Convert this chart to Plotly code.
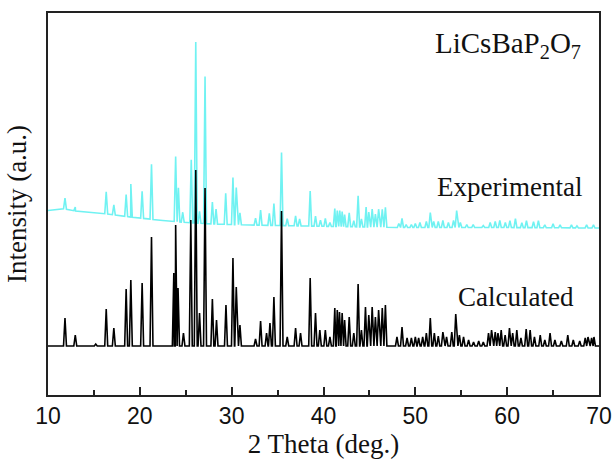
import numpy as np
import plotly.graph_objects as go

# ---- data (2theta in degrees, intensity in arbitrary units) ----
calc_pos = [11.85, 12.97, 15.2, 16.34, 17.17, 18.51, 19.02, 20.25, 21.27, 23.7, 23.9, 24.16, 24.75,
            25.55, 26.09, 26.5, 27.1, 27.9, 28.35, 29.38, 30.14, 30.5, 30.9, 32.6, 33.15, 33.8,
            34.17, 34.6, 35.43, 36.05, 36.96, 37.5, 38.55, 39.13, 39.6, 40.2, 40.7, 41.23, 41.5,
            41.74, 42.03, 42.3, 42.8, 43.3, 43.77, 44.13, 44.57, 44.93, 45.3, 45.65, 46.0, 46.4,
            46.74, 48.0, 48.55, 49.1, 49.57, 50.0, 50.36, 50.8, 51.2, 51.63, 52.07, 52.5, 53.0,
            53.4, 53.97, 54.4, 54.8, 55.25, 55.8, 56.34, 56.9, 57.4, 57.97, 58.3, 58.7, 59.0,
            59.35, 59.78, 60.25, 60.6, 61.05, 61.5, 62.07, 62.5, 62.97, 63.6, 64.1, 64.67, 65.2,
            65.9, 66.6, 67.2, 67.9, 68.5, 68.8, 69.2, 69.45]
calc_int = [28, 11, 2, 37, 18, 57, 66, 63, 109, 73, 121, 58, 13,
            126, 176, 33, 158, 47, 26, 41, 88, 59, 21, 7, 25, 13,
            23, 49, 135, 9, 18, 13, 68, 33, 16, 16, 9, 38, 36,
            34, 33, 26, 29, 13, 62, 16, 39, 31, 39, 29, 36, 38,
            41, 9, 19, 8, 8, 9, 8, 9, 13, 28, 13, 10, 14,
            9, 14, 32, 11, 9, 6, 4, 5, 4, 13, 16, 14, 13,
            16, 11, 18, 13, 16, 8, 17, 16, 9, 11, 6, 13, 6,
            5, 11, 6, 5, 8, 9, 8, 9]

exp_pos = [11.85, 12.97, 16.34, 17.17, 18.51, 19.02, 20.25, 21.27, 23.9, 24.2, 24.67, 25.6, 26.09,
           26.5, 27.1, 27.9, 28.3, 29.35, 30.14, 30.5, 30.9, 32.6, 33.15, 34.1, 34.6, 35.43,
           36.05, 36.96, 37.4, 38.55, 39.13, 39.67, 40.2, 40.7, 41.23, 41.5, 41.77, 42.03, 42.3,
           42.8, 43.3, 43.77, 44.13, 44.64, 44.93, 45.3, 45.65, 46.0, 46.4, 46.74, 48.2, 48.55,
           49.0, 49.57, 50.0, 50.5, 51.2, 51.63, 52.0, 52.5, 53.0, 53.6, 54.16, 54.5, 54.9,
           55.6, 56.3, 57.4, 58.15, 58.7, 59.2, 59.8, 60.3, 60.9, 61.6, 62.1, 62.87, 63.4,
           64.1, 65.0, 65.76, 67.0, 67.6, 68.65, 69.4]
exp_int = [11, 4, 22, 10, 22, 33, 27, 55, 65, 34, 10, 63, 181,
           12, 147, 22, 15, 31, 47, 37, 12, 7, 15, 12, 22, 73,
           7, 10, 7, 35, 10, 6, 8, 4, 18, 16, 16, 15, 12,
           14, 6, 31, 8, 20, 15, 18, 13, 18, 18, 20, 4, 9,
           3, 3, 4, 5, 6, 15, 6, 6, 7, 5, 7, 17, 5,
           3, 3, 2, 5, 6, 7, 5, 7, 9, 5, 7, 6, 7,
           3, 4, 3, 3, 2, 3, 3]

# experimental background level (offset pattern)
exp_bg_x = [10, 11.5, 13, 16, 19, 22.5, 25, 28, 32, 38, 48, 59, 70]
exp_bg_y = [135.5, 137.5, 135, 132.5, 129, 125.5, 123.5, 122, 121, 120, 118.5, 118.5, 118]

calc_bg_x = [10, 70]
calc_bg_y = [0, 0]

x_ticks = [10, 20, 30, 40, 50, 60, 70]
x_minor = [15, 25, 35, 45, 55, 65]

HALF_WIDTH = 0.16  # degrees, peak half base width


def build_profile(pos, inten, bgx, bgy):
    xs = list(bgx)
    ys = list(bgy)
    for p, h in zip(pos, inten):
        for dx, hh in ((-HALF_WIDTH, 0.0), (0.0, h), (HALF_WIDTH, 0.0)):
            xv = p + dx
            xs.append(xv)
            ys.append(float(np.interp(xv, bgx, bgy)) + hh)
    order = np.argsort(xs, kind="stable")
    return np.array(xs)[order], np.array(ys)[order]


cx, cy = build_profile(calc_pos, calc_int, calc_bg_x, calc_bg_y)
ex, ey = build_profile(exp_pos, exp_int, exp_bg_x, exp_bg_y)

fig = go.Figure()
fig.add_trace(go.Scatter(x=ex, y=ey, mode="lines",
                         line=dict(color="#70f2f2", width=1.6), name="Experimental",
                         showlegend=False))
fig.add_trace(go.Scatter(x=cx, y=cy, mode="lines",
                         line=dict(color="#000000", width=1.6), name="Calculated",
                         showlegend=False))

serif = "Liberation Serif, Times New Roman, serif"
sans = "Liberation Sans, Arial, sans-serif"

fig.update_layout(
    width=614, height=461,
    margin=dict(l=48, r=15, t=13, b=66),
    paper_bgcolor="white", plot_bgcolor="white",
    xaxis=dict(
        range=[10, 70], tickmode="array", tickvals=x_ticks,
        ticks="inside", ticklen=8, tickwidth=1.5, tickcolor="#222",
        minor=dict(tickvals=x_minor, ticks="inside", ticklen=5,
                   tickwidth=1.5, tickcolor="#222"),
        showline=True, linecolor="#222", linewidth=1.5, mirror=True,
        showgrid=False, zeroline=False, automargin=False,
        tickfont=dict(family=sans, size=23, color="#111"),
        title=dict(text="2 Theta (deg.)", font=dict(family=serif, size=27, color="#111"),
                   standoff=2),
    ),
    yaxis=dict(
        range=[-49, 333], showticklabels=False, ticks="",
        showline=True, linecolor="#222", linewidth=1.5, mirror=True,
        showgrid=False, zeroline=False, automargin=False,
        title=dict(text="Intensity (a.u.)", font=dict(family=serif, size=27, color="#111"),
                   standoff=12),
    ),
    annotations=[
        dict(text="LiCsBaP<sub>2</sub>O<sub>7</sub>", xref="paper", yref="paper",
             x=0.835, y=0.916, showarrow=False, xanchor="center", yanchor="middle",
             font=dict(family=serif, size=29, color="#111")),
        dict(text="Experimental", xref="paper", yref="paper",
             x=0.838, y=0.545, showarrow=False, xanchor="center", yanchor="middle",
             font=dict(family=serif, size=27, color="#111")),
        dict(text="Calculated", xref="paper", yref="paper",
             x=0.849, y=0.257, showarrow=False, xanchor="center", yanchor="middle",
             font=dict(family=serif, size=27, color="#111")),
    ],
)

fig.write_html("out.html")
